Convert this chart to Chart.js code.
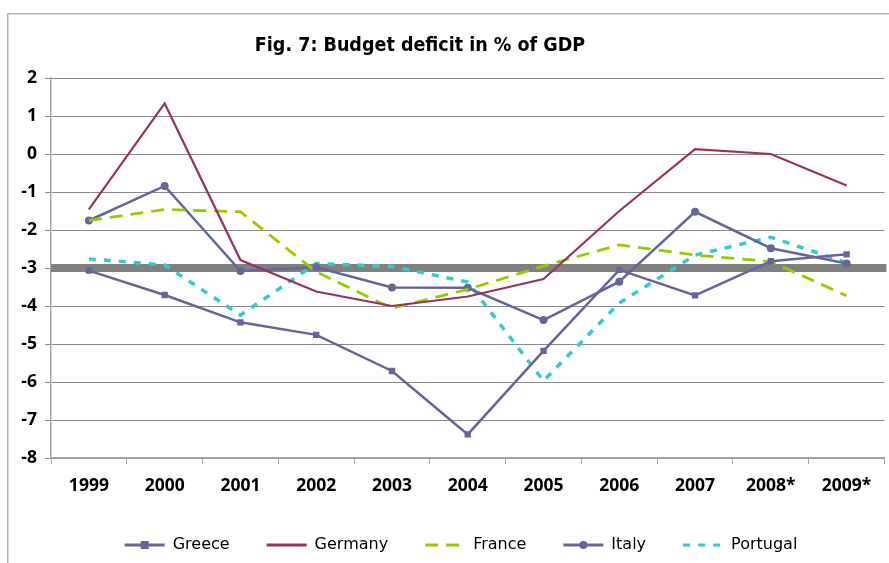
<!DOCTYPE html>
<html>
<head>
<meta charset="utf-8">
<script src="https://cdn.jsdelivr.net/npm/chart.js@4/dist/chart.umd.min.js"></script>
<style>
  html, body { margin: 0; padding: 0; background: #fff; }
  #wrap { position: relative; width: 889px; height: 563px; }
</style>
</head>
<body>
<div id="wrap"><canvas id="c" width="889" height="563"></canvas></div>
<script>
// ---- data ----
const years = ['1999','2000','2001','2002','2003','2004','2005','2006','2007','2008*','2009*'];
const greece   = [-3.07, -3.71, -4.43, -4.76, -5.71, -7.38, -5.18, -3.05, -3.72, -2.82, -2.64];
const germany  = [-1.46,  1.33, -2.79, -3.62, -4.00, -3.75, -3.29, -1.50,  0.13,  0.00, -0.83];
const france   = [-1.75, -1.46, -1.52, -3.10, -4.06, -3.56, -2.95, -2.39, -2.66, -2.83, -3.73];
const italy    = [-1.75, -0.84, -3.08, -2.98, -3.51, -3.52, -4.37, -3.36, -1.52, -2.48, -2.88];
const portugal = [-2.76, -2.92, -4.24, -2.88, -2.96, -3.37, -5.97, -3.92, -2.66, -2.19, -2.86];
const seriesNames = ['Greece', 'Germany', 'France', 'Italy', 'Portugal'];
const limitValue = -3;
const yMin = -8, yMax = 2, yStep = 1;
const titleText = 'Fig. 7: Budget deficit in % of GDP';

const C_GR = '#66669c', C_DE = '#993366', C_FR = '#99cc00', C_IT = '#66669c', C_PT = '#33cccc';

const limitLine = {
  id: 'limitLine',
  beforeDatasetsDraw(chart) {
    const y = chart.scales.y.getPixelForValue(limitValue);
    const a = chart.chartArea;
    const ctx = chart.ctx;
    ctx.save();
    ctx.strokeStyle = '#808080';
    ctx.lineWidth = 8;
    ctx.beginPath();
    ctx.moveTo(a.left, y);
    ctx.lineTo(a.right + 2, y);
    ctx.stroke();
    ctx.restore();
  }
};

const frame = {
  id: 'frame',
  beforeDraw(chart) {
    const ctx = chart.ctx;
    ctx.save();
    ctx.strokeStyle = '#b4b4b4';
    ctx.lineWidth = 1.5;
    ctx.beginPath();
    ctx.moveTo(7.75, chart.height);
    ctx.lineTo(7.75, 13.75);
    ctx.lineTo(chart.width, 13.75);
    ctx.stroke();
    ctx.restore();
  }
};

const chartTitle = {
  id: 'chartTitle',
  afterDraw(chart) {
    const ctx = chart.ctx;
    ctx.save();
    ctx.fillStyle = '#000';
    ctx.font = 'bold 19.5px "DejaVu Sans Condensed", "DejaVu Sans", sans-serif';
    ctx.textAlign = 'center';
    ctx.textBaseline = 'middle';
    ctx.fillText(titleText, 420, 46);
    ctx.restore();
  }
};

const legendShift = {
  id: 'legendShift',
  afterLayout(chart) {
    const lg = chart.legend;
    if (!lg) return;
    lg.left += 18;
    lg.right += 18;
  }
};

const legendMarkers = {
  id: 'legendMarkers',
  afterDraw(chart) {
    const lg = chart.legend;
    if (!lg || !lg.legendHitBoxes) return;
    const ctx = chart.ctx;
    const fs = lg.options.labels.font.size;
    lg.legendHitBoxes.forEach((hb, i) => {
      const ds = chart.data.datasets[i];
      if (!ds.pointRadius) return;
      const cx = hb.left + 20, cy = hb.top + fs / 2;
      ctx.save();
      ctx.fillStyle = ds.borderColor;
      if (ds.pointStyle === 'rect') {
        ctx.fillRect(cx - 4, cy - 4, 8, 8);
      } else {
        ctx.beginPath();
        ctx.arc(cx, cy, 4, 0, Math.PI * 2);
        ctx.fill();
      }
      ctx.restore();
    });
  }
};

new Chart(document.getElementById('c'), {
  type: 'line',
  data: {
    labels: years,
    datasets: [
      { label: seriesNames[0], data: greece, borderColor: C_GR, backgroundColor: C_GR, borderWidth: 2.5,
        pointStyle: 'rect', pointRadius: 4.5, pointBorderWidth: 0, tension: 0 },
      { label: seriesNames[1], data: germany, borderColor: C_DE, backgroundColor: C_DE, borderWidth: 2.2,
        pointRadius: 0, tension: 0 },
      { label: seriesNames[2], data: france, borderColor: C_FR, backgroundColor: C_FR, borderWidth: 2.8,
        borderDash: [13, 8], pointRadius: 0, tension: 0 },
      { label: seriesNames[3], data: italy, borderColor: C_IT, backgroundColor: C_IT, borderWidth: 2.5,
        pointStyle: 'circle', pointRadius: 4, pointBorderWidth: 0, tension: 0 },
      { label: seriesNames[4], data: portugal, borderColor: C_PT, backgroundColor: C_PT, borderWidth: 3.5,
        borderDash: [7, 8], pointRadius: 0, tension: 0 }
    ]
  },
  options: {
    responsive: false,
    animation: false,
    events: [],
    layout: { padding: { left: 0, right: 3, top: 78, bottom: 0 } },
    plugins: {
      title: { display: false },
      legend: {
        position: 'bottom',
        labels: {
          color: '#000',
          font: { family: '"DejaVu Sans", sans-serif', size: 16 },
          usePointStyle: true,
          pointStyleWidth: 40,
          padding: 37,
          generateLabels(chart) {
            const items = Chart.defaults.plugins.legend.labels.generateLabels(chart);
            items.forEach((it, i) => {
              const ds = chart.data.datasets[i];
              it.pointStyle = 'line';
              it.lineWidth = 3;
              it.strokeStyle = ds.borderColor;
              it.lineDash = ds.borderDash || [];
            });
            return items;
          }
        }
      },
      tooltip: { enabled: false }
    },
    scales: {
      x: {
        offset: true,
        grid: { display: true, drawOnChartArea: false, drawTicks: true, tickLength: 6, offset: true, color: '#a8a8a8' },
        border: { display: true, color: '#a8a8a8', width: 1.5 },
        ticks: { color: '#000', padding: 12, maxRotation: 0, autoSkip: false,
          font: { family: '"Open Sans", sans-serif', size: 17.5, weight: 'bold' } },
        afterFit(scale) { scale.height = 42; }
      },
      y: {
        min: yMin, max: yMax,
        grid: { color: '#8a8a8a', lineWidth: 1, tickLength: 6, drawTicks: true },
        border: { display: true, color: '#a8a8a8', width: 1.5 },
        ticks: { stepSize: yStep, color: '#000', padding: 8,
          font: { family: '"Open Sans", sans-serif', size: 17.5, weight: 'bold' } },
        afterFit(scale) { scale.width = 51; }
      }
    }
  },
  plugins: [frame, limitLine, legendShift, legendMarkers, chartTitle]
});
</script>
</body>
</html>
